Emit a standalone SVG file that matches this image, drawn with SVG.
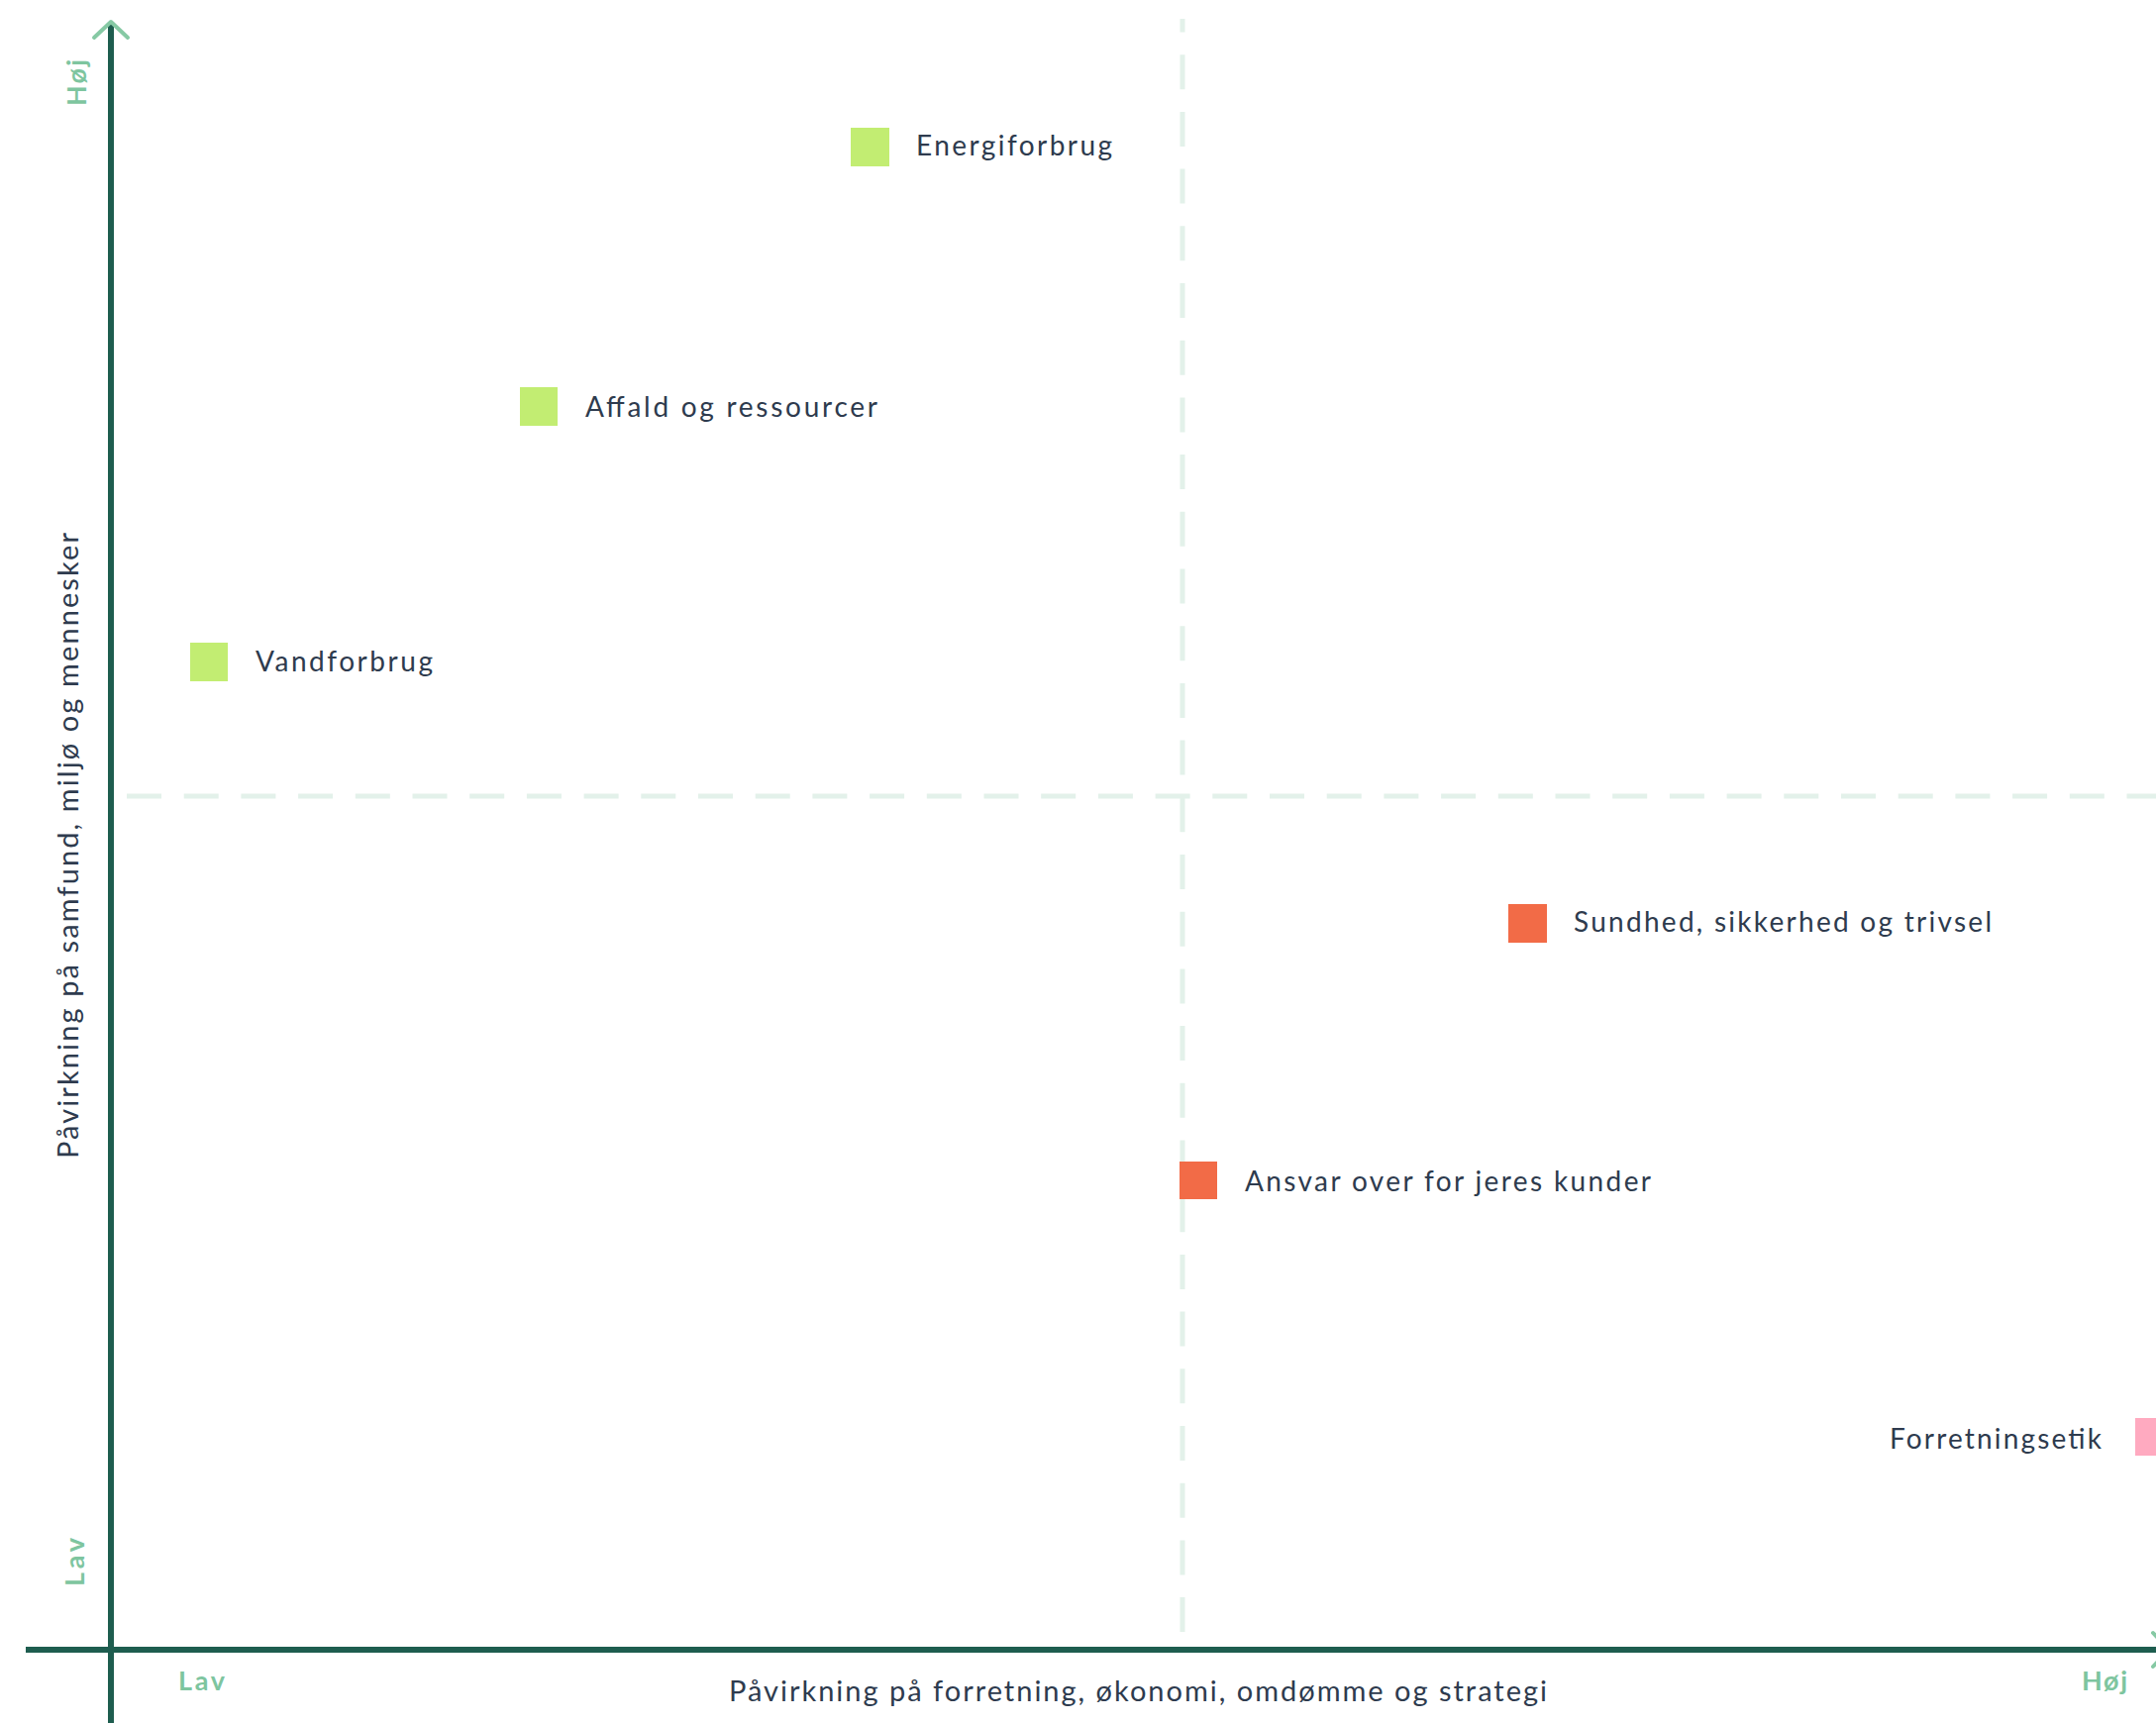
<svg xmlns="http://www.w3.org/2000/svg" width="2177" height="1740" viewBox="0 0 2177 1740">
<style>
.lbl{font-family:Lato,"Noto Sans","Liberation Sans",sans-serif;font-size:28px;fill:#2e3b4e;}
.title{font-family:Lato,"Noto Sans","Liberation Sans",sans-serif;font-size:29px;fill:#2e3b4e;}
.tick{font-family:Lato,"Noto Sans","Liberation Sans",sans-serif;font-size:27px;font-weight:bold;fill:#7ec59f;}
.axis{stroke:#1e5d4f;stroke-width:6;fill:none;}
.arrow{stroke:#86c9a4;stroke-width:4;fill:none;stroke-linecap:round;stroke-linejoin:round;}
.grid{stroke:#e3f1ea;stroke-width:5;stroke-dasharray:35 22.7;fill:none;}
.green{fill:#c2ed72;}
.orange{fill:#f26b47;}
.pink{fill:#ffaac0;}
</style>
<rect width="2177" height="1740" fill="#ffffff"/>
<g id="grid">
<line class="grid" x1="1194" y1="19" x2="1194" y2="1648" stroke-dashoffset="21.5"/>
<line class="grid" x1="128" y1="804" x2="2177" y2="804"/>
</g>
<g id="connectors">
<line class="axis" x1="112" y1="22" x2="112" y2="1740"/>
<line class="axis" x1="26" y1="1666" x2="2192" y2="1666"/>
<polyline class="arrow" points="95,38 112,22 129,38"/>
<polyline class="arrow" points="2174,1649 2190,1666 2174,1683"/>
</g>
<g id="axis-labels">
<text class="tick" transform="translate(87,107) rotate(-90)" textLength="47" lengthAdjust="spacing">Høj</text>
<text class="tick" transform="translate(85,1602) rotate(-90)" textLength="49" lengthAdjust="spacing">Lav</text>
<text class="tick" x="180" y="1707" textLength="47" lengthAdjust="spacing">Lav</text>
<text class="tick" x="2102" y="1707" textLength="46" lengthAdjust="spacing">Høj</text>
<text class="title" transform="translate(79,854) rotate(-90)" text-anchor="middle" textLength="632" lengthAdjust="spacing">Påvirkning på samfund, miljø og mennesker</text>
<text class="title" x="736" y="1718" textLength="826" lengthAdjust="spacing">Påvirkning på forretning, økonomi, omdømme og strategi</text>
</g>
<g id="energiforbrug">
<rect class="green" x="859" y="129" width="39" height="39"/>
<text class="lbl" x="925" y="157" textLength="198" lengthAdjust="spacing">Energiforbrug</text>
</g>
<g id="affald">
<rect class="green" x="525" y="391" width="38" height="39"/>
<text class="lbl" x="591" y="421" textLength="295" lengthAdjust="spacing">Affald og ressourcer</text>
</g>
<g id="vandforbrug">
<rect class="green" x="192" y="649" width="38" height="39"/>
<text class="lbl" x="258" y="678" textLength="179" lengthAdjust="spacing">Vandforbrug</text>
</g>
<g id="sundhed">
<rect class="orange" x="1523" y="913" width="39" height="39"/>
<text class="lbl" x="1589" y="941" textLength="422" lengthAdjust="spacing">Sundhed, sikkerhed og trivsel</text>
</g>
<g id="ansvar">
<rect class="orange" x="1191" y="1173" width="38" height="38"/>
<text class="lbl" x="1257" y="1203" textLength="410" lengthAdjust="spacing">Ansvar over for jeres kunder</text>
</g>
<g id="forretningsetik">
<rect class="pink" x="2156" y="1432" width="39" height="38"/>
<text class="lbl" x="1908" y="1463" textLength="214" lengthAdjust="spacing">Forretningsetik</text>
</g>
</svg>
